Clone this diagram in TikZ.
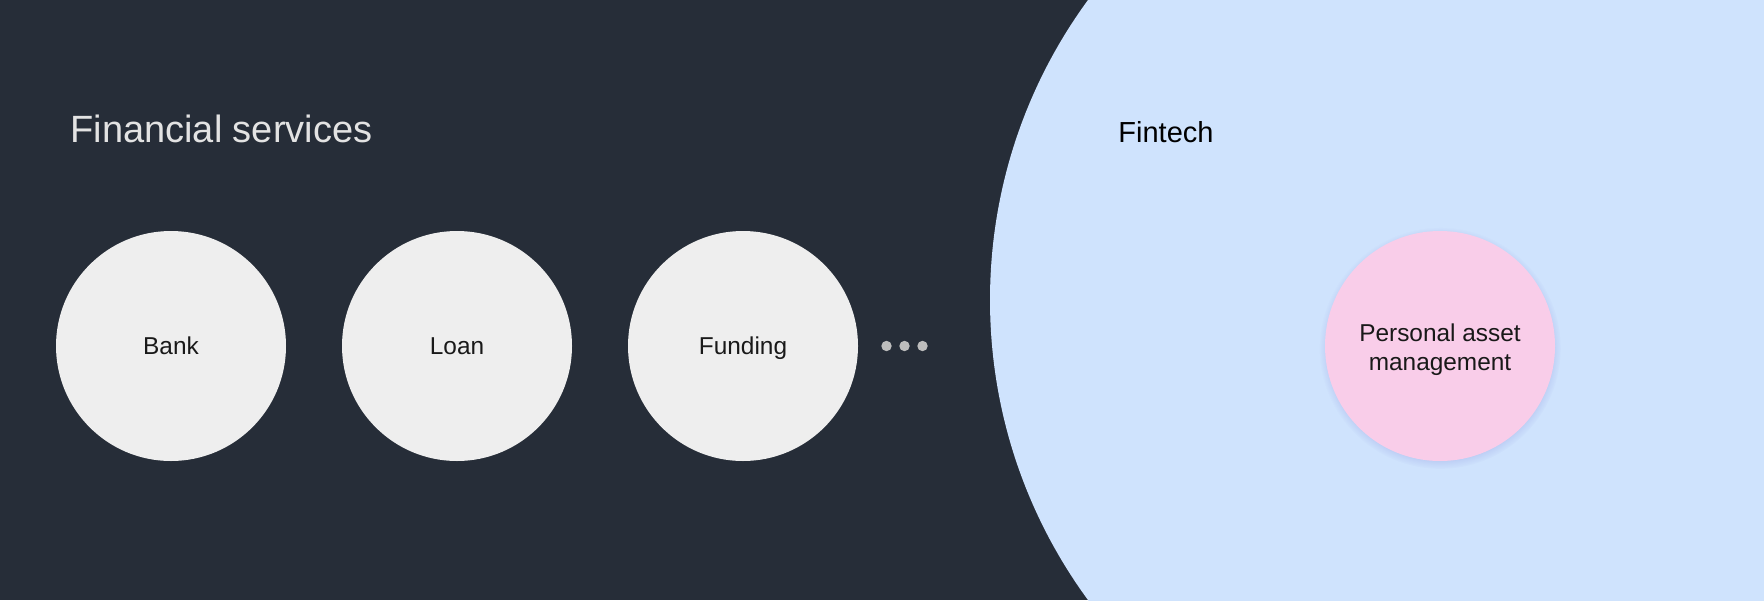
\documentclass[tikz,border=0pt]{standalone}
\usepackage{fontspec}
\setmainfont{Liberation Sans}
\usetikzlibrary{shadows}

\definecolor{darkbg}{HTML}{262D38}
\definecolor{fintechblue}{HTML}{CFE3FD}
\definecolor{servicegray}{HTML}{EEEEEE}
\definecolor{assetpink}{HTML}{F9CDE9}
\definecolor{dotgray}{HTML}{BDBDBD}
\definecolor{titlegray}{HTML}{E3E3E3}

\begin{document}
\begin{tikzpicture}[x=0.5pt,y=-0.5pt,
  service/.style={circle,fill=servicegray,minimum size=115pt,inner sep=0pt,
    font=\fontsize{12.2}{14.35}\selectfont,text=black!90,
    text height=8.7pt,text depth=0pt},
  asset/.style={service,fill=assetpink,align=center,text height=,text depth=},
  dotnode/.style={circle,fill=dotgray,minimum size=5.2pt,inner sep=0pt},
  heading/.style={anchor=base west,inner sep=0pt}]
\useasboundingbox (0,0) rectangle (1764,600);
\fill[darkbg] (0,0) rectangle (1764,600);
\begin{scope}
 \clip (0,0) rectangle (1764,600);
 \fill[fintechblue] (1498,300) circle (254pt);
\end{scope}

\node[heading,text=titlegray,font=\fontsize{19}{22}\selectfont] (services) at (70,142) {Financial services};
\node[heading,text=black,font=\fontsize{14.5}{17}\selectfont] (fintech) at (1118,142) {Fintech};

\foreach \name/\txt [count=\i from 0] in {bank/Bank,loan/Loan,funding/Funding}
{
  \node[service] (\name) at (171+286*\i,346) {\txt};
}
\foreach \k in {0,1,2}
  \node[dotnode] (dot\k) at (886.5+18*\k,346) {};

\node[asset,circular drop shadow={shadow xshift=0pt,shadow yshift=-1pt,
  shadow scale=1.05,fill=blue!50!gray,opacity=0.25}] (asset) at (1440,346)
  {\rule{0pt}{12.2pt}Personal asset\\management};
\end{tikzpicture}
\end{document}
